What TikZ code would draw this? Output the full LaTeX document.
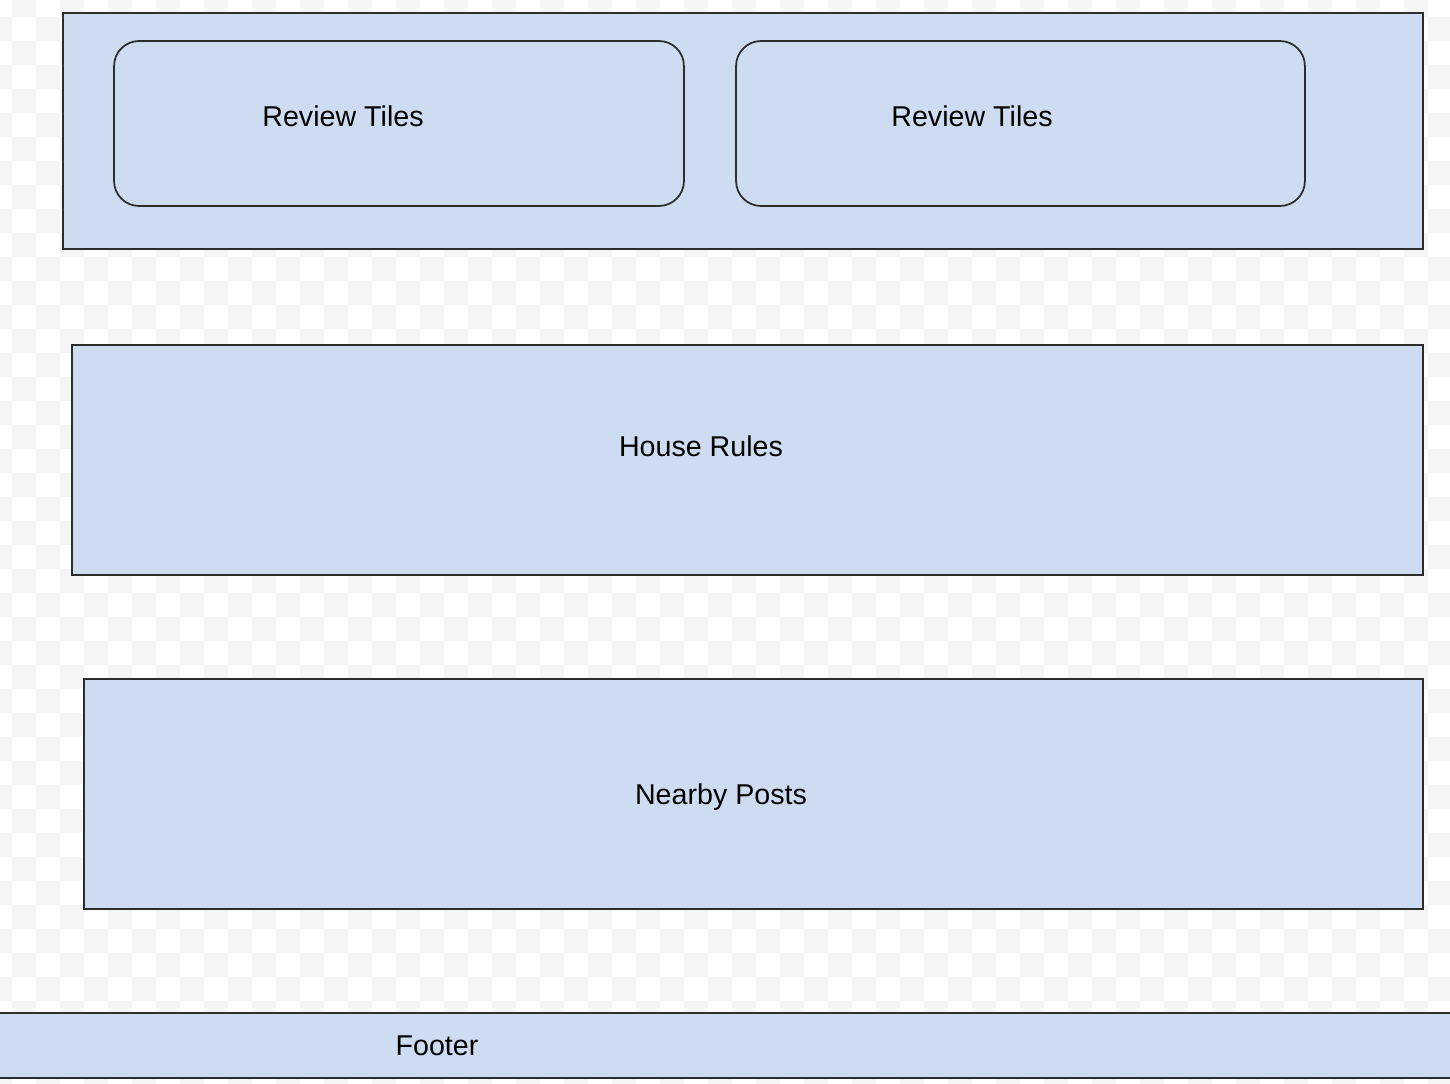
\documentclass[tikz,border=0pt]{standalone}
\usepackage{fontspec}
\setmainfont{Liberation Sans}
\usetikzlibrary{positioning}
\definecolor{panelblue}{RGB}{205,220,241}
\definecolor{checkgray}{RGB}{245,245,245}
\definecolor{edgegray}{RGB}{45,45,45}

\begin{document}
\begin{tikzpicture}[
  x=0.02cm, y=-0.02cm,
  panel/.style={draw=edgegray,fill=panelblue,line width=1.1pt,
    rectangle,inner sep=0pt,outer sep=0pt},
  tile/.style={panel,rounded corners=0.5cm,line width=1pt},
  caption/.style={font=\fontsize{16.3}{19}\selectfont,text=black,inner sep=0pt}
]
  \useasboundingbox (0,0) rectangle (1450,1084);
  \fill[white] (0,0) rectangle (1450,1084);
  % faint checker behind the panels
  \foreach \j in {0,2,...,46}
    \foreach \i in {0,2,...,60} {
      \fill[checkgray] (\i*24+12,\j*24-7) rectangle ++(24,24);
      \fill[checkgray] (\i*24-12,\j*24+17) rectangle ++(24,24);
    }

  % header with the two review tiles
  \node[panel,minimum width=27.2cm,minimum height=4.72cm] (header) at (743,131) {};
  \node[tile,minimum width=11.4cm,minimum height=3.3cm] (tileA) at (399,123.5) {};
  \node[tile,minimum width=11.38cm,minimum height=3.3cm] (tileB) at (1020.5,123.5) {};
  \node[caption] (tileAtext) at (343,116) {Review Tiles};
  \node[caption] (tileBtext) at (972,116) {Review Tiles};

  % content sections
  \node[panel,minimum width=27.02cm,minimum height=4.6cm] (rules) at (747.5,460) {};
  \node[caption] (rulestext) at (701,446) {House Rules};
  \node[panel,minimum width=26.78cm,minimum height=4.6cm] (nearby) at (753.5,794) {};
  \node[caption] (nearbytext) at (721,797) {Nearby Posts};

  % footer runs past both page edges
  \node[panel,minimum width=29.6cm,minimum height=1.3cm] (footer) at (725,1045.5) {};
  \node[caption] (footertext) at (437,1046) {Footer};
\end{tikzpicture}
\end{document}
